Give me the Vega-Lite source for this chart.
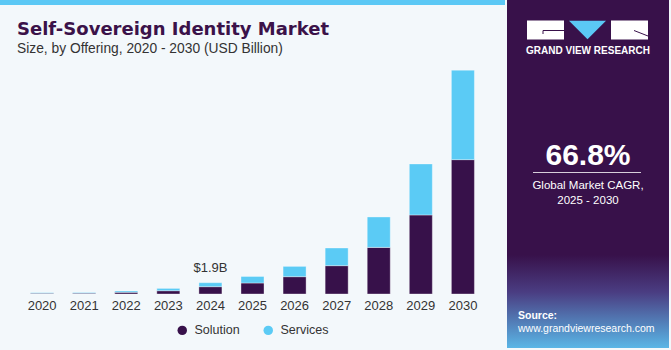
{
  "$schema": "https://vega.github.io/schema/vega-lite/v6.json",
  "background": "#f3f8fb",
  "padding": {"left": 0, "top": 0, "right": 2, "bottom": 2},
  "spacing": 2,
  "config": {
    "font": "Liberation Sans",
    "view": {"stroke": null},
    "legend": {"layout": {"bottom": {"anchor": "middle"}}}
  },
  "datasets": {
    "bars": [
      {"year": "2020", "segment": "Solution", "value": 0.12},
      {"year": "2020", "segment": "Services", "value": 0.1},
      {"year": "2021", "segment": "Solution", "value": 0.13},
      {"year": "2021", "segment": "Services", "value": 0.12},
      {"year": "2022", "segment": "Solution", "value": 0.28},
      {"year": "2022", "segment": "Services", "value": 0.22},
      {"year": "2023", "segment": "Solution", "value": 0.55},
      {"year": "2023", "segment": "Services", "value": 0.39},
      {"year": "2024", "segment": "Solution", "value": 1.23},
      {"year": "2024", "segment": "Services", "value": 0.67},
      {"year": "2025", "segment": "Solution", "value": 1.85},
      {"year": "2025", "segment": "Services", "value": 1.11},
      {"year": "2026", "segment": "Solution", "value": 2.91},
      {"year": "2026", "segment": "Services", "value": 1.73},
      {"year": "2027", "segment": "Solution", "value": 4.76},
      {"year": "2027", "segment": "Services", "value": 2.97},
      {"year": "2028", "segment": "Solution", "value": 7.83},
      {"year": "2028", "segment": "Services", "value": 5.11},
      {"year": "2029", "segment": "Solution", "value": 13.28},
      {"year": "2029", "segment": "Services", "value": 8.57},
      {"year": "2030", "segment": "Solution", "value": 22.57},
      {"year": "2030", "segment": "Services", "value": 15.03}
    ],
    "labels": [
      {"year": "2024", "total": 1.9, "label": "$1.9B"}
    ]
  },
  "resolve": {"legend": {"color": "independent"}, "scale": {"x": "independent", "y": "independent", "color": "independent"}},
  "hconcat": [
    {
      "spacing": 16,
      "vconcat": [
        {
          "width": 505,
          "height": 5,
          "view": {"fill": "#5bc8f5", "stroke": null},
          "data": {"values": []},
          "mark": "rect",
          "encoding": {}
        },
        {
          "width": 505,
          "height": 228,
          "title": {
            "text": "Self-Sovereign Identity Market",
            "subtitle": "Size, by Offering, 2020 - 2030 (USD Billion)",
            "anchor": "start",
            "dx": 17,
            "font": "DejaVu Sans",
            "fontSize": 18,
            "fontWeight": "bold",
            "color": "#3b1249",
            "subtitleFont": "Liberation Sans",
            "subtitleFontSize": 13.8,
            "subtitleColor": "#333333",
            "subtitlePadding": 3,
            "offset": 10
          },
          "layer": [
            {
              "data": {"name": "bars"},
              "mark": {"type": "bar", "stroke": "#ffffff", "strokeOpacity": 0.35, "strokeWidth": 1},
              "encoding": {
                "x": {
                  "field": "year", "type": "nominal", "sort": null,
                  "scale": {"paddingInner": 0.453, "paddingOuter": 0.727},
                  "axis": {"title": null, "labelAngle": 0, "domain": false, "ticks": false, "labelPadding": 5, "labelFontSize": 13, "labelColor": "#333333", "labelFont": "Liberation Sans"}
                },
                "y": {
                  "field": "value", "type": "quantitative", "stack": "zero",
                  "scale": {"domain": [0, 38.3], "nice": false, "zero": true},
                  "axis": null
                },
                "color": {
                  "field": "segment", "type": "nominal",
                  "scale": {"domain": ["Solution", "Services"], "range": ["#37114a", "#5bcbf5"]},
                  "legend": {"title": null, "orient": "bottom", "direction": "horizontal", "symbolType": "circle", "symbolSize": 90, "symbolStrokeWidth": 0, "labelFontSize": 12.5, "labelColor": "#333333", "columnPadding": 22, "offset": 12, "labelOffset": 6}
                },
                "order": {"field": "segment", "sort": "descending"}
              }
            },
            {
              "data": {"name": "labels"},
              "mark": {"type": "text", "fontSize": 13, "color": "#333333", "dy": -8, "baseline": "bottom"},
              "encoding": {
                "x": {"field": "year", "type": "nominal", "sort": null},
                "y": {"field": "total", "type": "quantitative"},
                "text": {"field": "label"}
              }
            }
          ]
        }
      ]
    },
    {
      "width": 162,
      "height": 348,
      "view": {"fill": "#38114a", "stroke": null},
      "data": {"values": [{}]},
      "encoding": {
        "x": {"type": "quantitative", "scale": {"domain": [0, 162], "nice": false, "zero": false}, "axis": null},
        "y": {"type": "quantitative", "scale": {"domain": [0, 348], "nice": false, "zero": false, "reverse": true}, "axis": null}
      },
      "layer": [
        {
          "mark": {"type": "rect", "fill": {"gradient": "linear", "x1": 0, "y1": 0, "x2": 0, "y2": 1, "stops": [{"offset": 0, "color": "#38114a"}, {"offset": 0.4, "color": "#4a3d82"}, {"offset": 1, "color": "#5ab6e6"}]}},
          "encoding": {"x": {"datum": 0}, "x2": {"datum": 162}, "y": {"datum": 255}, "y2": {"datum": 348}}
        },
        {
          "mark": {"type": "rect", "fill": "#ffffff"},
          "encoding": {"x": {"datum": 20}, "x2": {"datum": 57}, "y": {"datum": 20.5}, "y2": {"datum": 39.5}}
        },
        {
          "mark": {"type": "rect", "fill": "#ffffff"},
          "encoding": {"x": {"datum": 104}, "x2": {"datum": 141}, "y": {"datum": 20.5}, "y2": {"datum": 39.5}}
        },
        {
          "mark": {"type": "point", "shape": "M-1,-0.5L1,-0.5L0,0.5Z", "size": 1369, "filled": true, "fill": "#5bc8f5", "opacity": 1, "strokeWidth": 0},
          "encoding": {"x": {"datum": 80.5}, "y": {"datum": 30}}
        },
        {
          "mark": {"type": "rule", "color": "#38114a", "strokeWidth": 1},
          "encoding": {"x": {"datum": 36}, "x2": {"datum": 57}, "y": {"datum": 30.5}, "y2": {"datum": 30.5}}
        },
        {
          "mark": {"type": "rule", "color": "#38114a", "strokeWidth": 1},
          "encoding": {"x": {"datum": 36}, "x2": {"datum": 36}, "y": {"datum": 30.5}, "y2": {"datum": 34}}
        },
        {
          "mark": {"type": "rule", "color": "#38114a", "strokeWidth": 1},
          "encoding": {"x": {"datum": 127}, "x2": {"datum": 141}, "y": {"datum": 30.5}, "y2": {"datum": 36}}
        },
        {
          "mark": {"type": "text", "text": "GRAND VIEW RESEARCH", "fontSize": 10, "fontWeight": "bold", "color": "#ffffff", "letterSpacing": 0.9, "align": "center", "baseline": "middle"},
          "encoding": {"x": {"datum": 81}, "y": {"datum": 51}}
        },
        {
          "mark": {"type": "text", "text": "66.8%", "fontSize": 30, "fontWeight": "bold", "color": "#ffffff", "align": "center", "baseline": "alphabetic"},
          "encoding": {"x": {"datum": 81}, "y": {"datum": 165}}
        },
        {
          "mark": {"type": "rule", "color": "#ffffff", "strokeWidth": 1, "opacity": 0.8},
          "encoding": {"x": {"datum": 26}, "x2": {"datum": 134}, "y": {"datum": 172.5}, "y2": {"datum": 172.5}}
        },
        {
          "mark": {"type": "text", "text": "Global Market CAGR,", "fontSize": 11.5, "color": "#ffffff", "align": "center", "baseline": "middle"},
          "encoding": {"x": {"datum": 81}, "y": {"datum": 186}}
        },
        {
          "mark": {"type": "text", "text": "2025 - 2030", "fontSize": 11.5, "color": "#ffffff", "align": "center", "baseline": "middle"},
          "encoding": {"x": {"datum": 81}, "y": {"datum": 201}}
        },
        {
          "mark": {"type": "text", "text": "Source:", "fontSize": 10.5, "fontWeight": "bold", "color": "#ffffff", "align": "left", "baseline": "middle"},
          "encoding": {"x": {"datum": 11}, "y": {"datum": 316}}
        },
        {
          "mark": {"type": "text", "text": "www.grandviewresearch.com", "fontSize": 10.5, "color": "#ffffff", "align": "left", "baseline": "middle"},
          "encoding": {"x": {"datum": 11}, "y": {"datum": 329}}
        }
      ]
    }
  ]
}
